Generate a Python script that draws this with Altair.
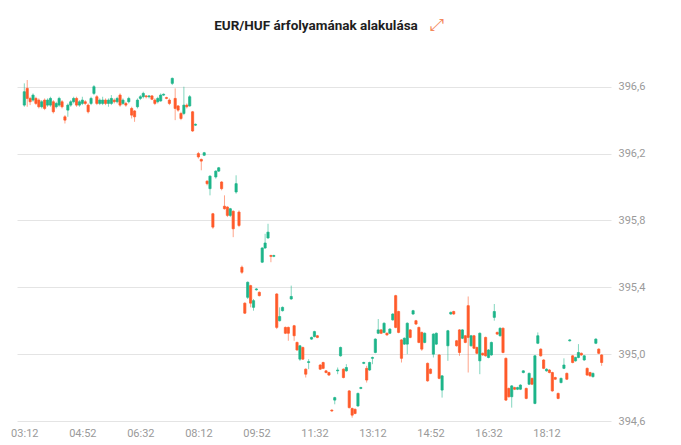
import json
import altair as alt
import pandas as pd

TITLE = "EUR/HUF árfolyamának alakulása"
TIME_LABELS = ["03:12", "04:52", "06:32", "08:12", "09:52", "11:32", "13:12", "14:52", "16:32", "18:12"]
Y_TICKS = [394.6, 395.0, 395.4, 395.8, 396.2, 396.6]

# 5-minute candle slots counted from 03:12
SLOT = list(range(0, 145)) + list(range(146, 200))

OPEN = [
    396.49, 396.59, 396.53, 396.52, 396.53, 396.52, 396.48, 396.52, 396.49, 396.49,
    396.51, 396.48, 396.49, 396.51, 396.42, 396.46, 396.49, 396.51, 396.53, 396.49,
    396.50, 396.51, 396.49, 396.50, 396.56, 396.54, 396.50, 396.50, 396.52, 396.50,
    396.50, 396.52, 396.51, 396.55, 396.50, 396.50, 396.51, 396.47, 396.455, 396.48,
    396.53, 396.54, 396.545, 396.54, 396.545, 396.52, 396.51, 396.515, 396.55, 396.535,
    396.52, 396.62, 396.53, 396.485, 396.44, 396.44, 396.49, 396.485, 396.45, 396.37,
    396.20, 396.165, 396.19, 396.035, 395.99, 395.84, 396.06, 396.095, 396.03, 395.885,
    395.88, 395.83, 395.855, 395.97, 395.85, 395.52, 395.305, 395.34, 395.41, 395.28,
    395.385, 395.37, 395.55, 395.635, 395.695, 395.59, 395.585, 395.36, 395.20, 395.26,
    395.16, 395.16, 395.33, 395.17, 395.07, 394.97, 395.04, 394.91, 394.95, 395.09,
    395.105, 395.11, 394.935, 394.95, 394.90, 394.89, 394.665, 394.725, 394.90, 394.99,
    394.91, 394.90, 394.78, 394.675, 394.67, 394.69, 394.795, 394.945, 394.915, 394.905,
    394.975, 395.01, 395.125, 395.145, 395.13, 395.125, 395.125, 395.205, 395.35, 395.255,
    395.085, 395.06, 395.06, 395.145, 395.24, 395.20, 395.16, 395.13, 395.07, 394.945,
    394.91, 395.00, 395.06, 394.995, 394.785,
    395.05, 395.24, 395.255, 395.08, 395.145, 395.095, 395.11, 395.29, 395.05,
    395.11, 395.04, 394.96, 395.005, 395.10, 394.98, 394.995, 395.22, 395.13, 395.11,
    395.155, 394.975, 394.795, 394.745, 394.80, 394.79, 394.79, 394.89, 394.795, 394.82,
    394.855, 394.705, 395.065, 395.03, 394.965, 394.90, 394.905, 394.89, 394.86, 394.765,
    394.83, 394.915, 394.885, 395.08, 394.99, 394.96, 394.98, 395.005, 394.965, 394.915,
    394.89, 394.865, 395.065, 395.03, 394.995,
]

CLOSE = [
    396.57, 396.53, 396.51, 396.55, 396.50, 396.48, 396.51, 396.47, 396.52, 396.53,
    396.45, 396.50, 396.53, 396.48, 396.40, 396.49, 396.51, 396.53, 396.49, 396.51,
    396.52, 396.50, 396.45, 396.53, 396.60, 396.50, 396.52, 396.52, 396.50, 396.52,
    396.53, 396.51, 396.53, 396.49, 396.52, 396.49, 396.53, 396.43, 396.42, 396.52,
    396.54, 396.56, 396.54, 396.545, 396.525, 396.50, 396.53, 396.55, 396.555, 396.53,
    396.50, 396.65, 396.47, 396.46, 396.41, 396.49, 396.48, 396.54, 396.335, 396.375,
    396.18, 396.155, 396.205, 396.02, 396.065, 395.76, 396.095, 396.115, 395.99, 395.87,
    395.83, 395.87, 395.75, 396.02, 395.77, 395.49, 395.245, 395.43, 395.305, 395.32,
    395.39, 395.35, 395.635, 395.665, 395.73, 395.585, 395.59, 395.16, 395.225, 395.28,
    395.125, 395.125, 395.345, 395.11, 395.025, 395.05, 394.97, 394.88, 394.955, 395.10,
    395.135, 395.10, 394.91, 394.915, 394.89, 394.875, 394.66, 394.74, 394.905, 395.04,
    394.86, 394.92, 394.68, 394.635, 394.645, 394.765, 394.80, 394.95, 394.845, 394.95,
    394.98, 395.09, 395.145, 395.125, 395.185, 395.115, 395.15, 395.24, 395.16, 395.13,
    394.975, 395.095, 395.185, 395.10, 395.26, 395.18, 395.07, 395.03, 395.125, 394.84,
    394.885, 395.12, 395.125, 394.855, 394.87,
    395.14, 395.25, 395.24, 395.05, 395.01, 395.145, 395.07, 395.10, 395.11,
    395.035, 395.005, 395.125, 394.995, 394.99, 395.025, 395.07, 395.255, 395.12, 395.155,
    395.01, 394.725, 394.745, 394.81, 394.79, 394.80, 394.815, 394.90, 394.735, 394.885,
    394.82, 394.99, 395.11, 394.99, 394.915, 394.91, 394.89, 394.78, 394.85, 394.735,
    394.855, 394.935, 394.85, 395.085, 394.95, 394.98, 395.01, 394.995, 394.99, 394.875,
    394.87, 394.885, 395.09, 395.005, 394.95,
]

HIGH = [
    396.62, 396.64, 396.54, 396.56, 396.54, 396.53, 396.52, 396.53, 396.53, 396.54,
    396.52, 396.51, 396.54, 396.52, 396.43, 396.50, 396.52, 396.54, 396.54, 396.52,
    396.54, 396.52, 396.50, 396.54, 396.61, 396.55, 396.53, 396.54, 396.53, 396.53,
    396.55, 396.53, 396.54, 396.56, 396.53, 396.51, 396.54, 396.48, 396.46, 396.53,
    396.55, 396.57, 396.55, 396.55, 396.55, 396.53, 396.54, 396.56, 396.56, 396.54,
    396.53, 396.655, 396.59, 396.49, 396.45, 396.60, 396.50, 396.55, 396.455, 396.38,
    396.21, 396.17, 396.21, 396.04, 396.07, 395.845, 396.10, 396.12, 396.035, 395.95,
    395.885, 395.875, 395.86, 396.07, 395.86, 395.53, 395.31, 395.435, 395.415, 395.33,
    395.395, 395.375, 395.64, 395.72, 395.78, 395.595, 395.595, 395.365, 395.28, 395.285,
    395.165, 395.165, 395.41, 395.175, 395.075, 395.055, 395.045, 394.915, 394.97, 395.105,
    395.14, 395.115, 394.94, 394.955, 394.905, 394.895, 394.67, 394.745, 394.92, 395.045,
    394.915, 394.94, 394.785, 394.68, 394.675, 394.77, 394.805, 394.955, 394.93, 394.955,
    394.985, 395.095, 395.21, 395.15, 395.19, 395.13, 395.155, 395.245, 395.355, 395.26,
    395.09, 395.10, 395.19, 395.15, 395.265, 395.205, 395.165, 395.135, 395.13, 394.95,
    394.915, 395.125, 395.13, 395.00, 394.875,
    395.145, 395.255, 395.26, 395.085, 395.15, 395.15, 395.115, 395.345, 395.115,
    395.115, 395.045, 395.13, 395.01, 395.105, 395.03, 395.075, 395.30, 395.135, 395.16,
    395.16, 394.98, 394.80, 394.815, 394.805, 394.805, 394.82, 394.905, 394.80, 394.89,
    394.86, 394.995, 395.13, 395.035, 394.97, 394.915, 394.91, 394.895, 394.865, 394.77,
    394.86, 394.975, 394.89, 395.09, 394.995, 394.985, 395.06, 395.01, 394.995, 394.92,
    394.895, 394.89, 395.095, 395.035, 395.00,
]

LOW = [
    396.48, 396.48, 396.49, 396.51, 396.49, 396.47, 396.47, 396.46, 396.48, 396.48,
    396.44, 396.47, 396.48, 396.47, 396.38, 396.42, 396.48, 396.50, 396.48, 396.48,
    396.49, 396.49, 396.44, 396.49, 396.55, 396.49, 396.49, 396.49, 396.49, 396.48,
    396.49, 396.50, 396.50, 396.48, 396.49, 396.48, 396.50, 396.41, 396.39, 396.47,
    396.52, 396.53, 396.53, 396.53, 396.52, 396.49, 396.50, 396.51, 396.545, 396.525,
    396.49, 396.61, 396.40, 396.45, 396.40, 396.43, 396.47, 396.48, 396.33, 396.365,
    396.17, 396.10, 396.185, 396.01, 395.95, 395.75, 396.05, 396.09, 395.98, 395.865,
    395.82, 395.82, 395.70, 395.96, 395.76, 395.48, 395.24, 395.33, 395.28, 395.26,
    395.38, 395.345, 395.545, 395.63, 395.69, 395.55, 395.58, 395.15, 395.195, 395.255,
    395.12, 395.08, 395.325, 395.08, 395.02, 394.96, 394.965, 394.86, 394.91, 395.085,
    395.10, 395.095, 394.905, 394.91, 394.885, 394.87, 394.655, 394.70, 394.88, 394.985,
    394.855, 394.895, 394.675, 394.62, 394.64, 394.685, 394.79, 394.94, 394.83, 394.90,
    394.94, 395.005, 395.12, 395.12, 395.125, 395.11, 395.12, 395.20, 395.155, 395.125,
    394.95, 395.055, 395.00, 395.095, 395.235, 395.175, 395.065, 395.02, 395.065, 394.835,
    394.88, 394.98, 395.055, 394.85, 394.74,
    394.96, 395.235, 395.235, 395.045, 394.99, 395.09, 395.065, 394.89, 395.045,
    395.03, 395.00, 394.88, 394.99, 394.985, 394.975, 394.99, 395.20, 395.115, 395.105,
    395.005, 394.72, 394.74, 394.68, 394.785, 394.785, 394.785, 394.885, 394.73, 394.815,
    394.815, 394.70, 395.06, 394.985, 394.91, 394.895, 394.885, 394.775, 394.845, 394.73,
    394.825, 394.91, 394.845, 395.075, 394.945, 394.955, 394.975, 394.99, 394.96, 394.87,
    394.865, 394.86, 395.06, 395.00, 394.93,
]

GREEN = "#1db58a"
RED = "#ff5a2a"

df = pd.DataFrame({"slot": SLOT, "open": OPEN, "close": CLOSE, "high": HIGH, "low": LOW})
df["dir"] = ["up" if c >= o else "down" for o, c in zip(df["open"], df["close"])]

color_scale = alt.Scale(domain=["up", "down"], range=[GREEN, RED])
x_scale = alt.Scale(domain=[-0.8, 200.5], nice=False, zero=False)
y_scale = alt.Scale(domain=[394.6, 396.7], nice=False, zero=False)

x_axis = alt.Axis(
    values=[i * 20 for i in range(len(TIME_LABELS))],
    labelExpr=json.dumps(TIME_LABELS) + "[round(datum.value / 20)]",
    title=None, grid=False, domain=False, ticks=False,
    labelPadding=6, labelFontSize=11, labelColor="#9a9a9a", labelFont="Roboto",
    labelFlush=False,
)
y_axis = alt.Axis(
    orient="right", values=Y_TICKS,
    labelExpr="replace(format(datum.value, '.1f'), '.', ',')",
    title=None, grid=True, gridColor="#e4e4e4", domain=False, ticks=False,
    labelPadding=7, labelFontSize=11, labelColor="#9a9a9a", labelFont="Roboto",
)

base = alt.Chart(df)

wicks = base.mark_rule(strokeWidth=1, opacity=0.55).encode(
    x=alt.X("slot:Q", scale=x_scale, axis=x_axis),
    y=alt.Y("low:Q", scale=y_scale, axis=y_axis),
    y2="high:Q",
    color=alt.Color("dir:N", scale=color_scale, legend=None),
)

bodies = base.mark_bar(size=2.2, strokeWidth=0.7).encode(
    x=alt.X("slot:Q", scale=x_scale),
    y=alt.Y("open:Q", scale=y_scale),
    y2="close:Q",
    color=alt.Color("dir:N", scale=color_scale, legend=None),
    stroke=alt.Stroke("dir:N", scale=color_scale, legend=None),
)

title_text = alt.Chart(pd.DataFrame({"t": [TITLE]})).mark_text(
    fontSize=13.5, fontWeight="bold", font="Roboto", color="#1e1e1e",
    align="center", baseline="alphabetic",
).encode(text="t:N", x=alt.value(299), y=alt.value(-40))

icon = alt.Chart(pd.DataFrame({"t": ["⤢"]})).mark_text(
    fontSize=17, color="#f4885c", font="DejaVu Sans", align="center", baseline="middle"
).encode(text="t:N", x=alt.value(420), y=alt.value(-45))

chart = alt.layer(wicks, bodies, title_text, icon).properties(
    width=594,
    height=351,
    autosize=alt.AutoSizeParams(type="none"),
    padding={"left": 17, "top": 70, "right": 70, "bottom": 24},
).configure_view(stroke=None)

chart.save("out.html", embed_options={"renderer": "svg", "actions": False})
